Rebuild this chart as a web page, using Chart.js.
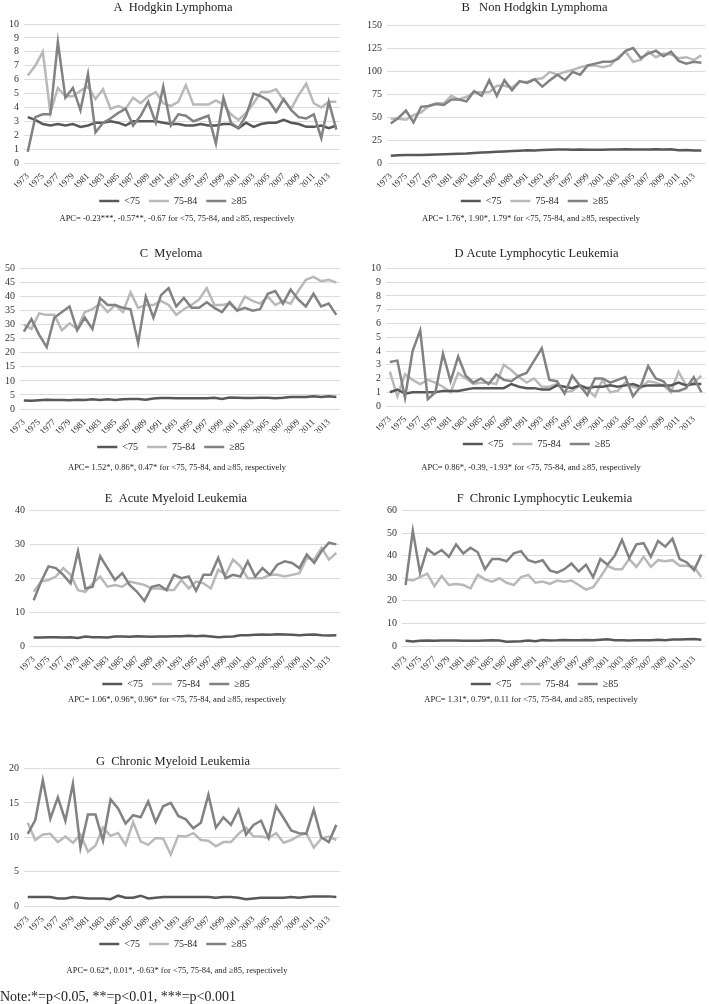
<!DOCTYPE html>
<html>
<head>
<meta charset="utf-8">
<script src="https://cdn.jsdelivr.net/npm/chart.js@4.4.0/dist/chart.umd.min.js"></script>
<style>
  body { margin: 0; background: #fff; font-family: "Liberation Serif", serif; }
  #page { position: relative; width: 709px; height: 1004px; }
  .box { position: absolute; }
  .apc { position: absolute; width: 354px; text-align: center; font-size: 8.5px; line-height: 10px; color: #222;
         -webkit-font-smoothing: antialiased; will-change: transform; }
  .note { position: absolute; left: 0; top: 989px; font-size: 14px; line-height: 16px; color: #222;
          will-change: transform; }
</style>
</head>
<body>
<div id="page">
  <div class="box" style="left:4px;top:0px;width:340px;height:216px"><canvas id="cA"></canvas></div>
  <div class="box" style="left:362px;top:0px;width:347px;height:216px"><canvas id="cB"></canvas></div>
  <div class="box" style="left:0px;top:246px;width:344px;height:216px"><canvas id="cC"></canvas></div>
  <div class="box" style="left:366px;top:246px;width:343px;height:213px"><canvas id="cD"></canvas></div>
  <div class="box" style="left:10px;top:491px;width:334px;height:208px"><canvas id="cE"></canvas></div>
  <div class="box" style="left:382px;top:491px;width:327px;height:208px"><canvas id="cF"></canvas></div>
  <div class="box" style="left:4px;top:754px;width:340px;height:205px"><canvas id="cG"></canvas></div>

  <div class="apc" style="left:0;top:213px">APC= -0.23***, -0.57**, -0.67 for &lt;75, 75-84, and ≥85, respectively</div>
  <div class="apc" style="left:354px;top:213px">APC= 1.76*, 1.90*, 1.79* for &lt;75, 75-84, and ≥85, respectively</div>
  <div class="apc" style="left:0;top:462px">APC= 1.52*, 0.86*, 0.47* for &lt;75, 75-84, and ≥85, respectively</div>
  <div class="apc" style="left:354px;top:462px">APC= 0.86*, -0.39, -1.93* for &lt;75, 75-84, and ≥85, respectively</div>
  <div class="apc" style="left:0;top:694px">APC= 1.06*, 0.96*, 0.96* for &lt;75, 75-84, and ≥85, respectively</div>
  <div class="apc" style="left:354px;top:694px">APC= 1.31*, 0.79*, 0.11 for &lt;75, 75-84, and ≥85, respectively</div>
  <div class="apc" style="left:0;top:965px">APC= 0.62*, 0.01*, -0.63* for &lt;75, 75-84, and ≥85, respectively</div>
  <div class="note">Note:*=p&lt;0.05, **=p&lt;0.01, ***=p&lt;0.001</div>
</div>
<script>
var years = [];
for (var y = 1973; y <= 2014; y++) years.push(String(y));
var groups = ["<75", "75-84", "≥85"];

// A Hodgkin Lymphoma
var hodgkinYoung = [3.3,3.1,2.8,2.7,2.8,2.7,2.8,2.6,2.7,2.9,2.9,3.0,2.9,2.7,3.0,3.0,3.0,3.0,2.9,2.8,2.8,2.7,2.7,2.8,2.7,2.7,2.8,2.8,2.5,2.9,2.6,2.8,2.9,2.9,3.1,2.9,2.8,2.6,2.6,2.7,2.5,2.7];
var hodgkinMid = [6.3,7.0,8.0,3.6,5.4,4.8,4.8,5.2,5.5,4.6,5.3,3.9,4.1,3.9,4.7,4.3,4.8,5.1,4.3,4.1,4.4,5.6,4.2,4.2,4.2,4.5,4.2,3.5,3.1,3.6,4.3,5.1,5.1,5.3,4.5,3.9,4.9,5.7,4.3,4.0,4.4,4.4];
var hodgkinOld = [0.8,3.3,3.5,3.5,8.7,4.7,5.4,3.8,6.4,2.2,2.9,3.2,3.6,3.9,2.7,3.4,4.4,2.9,5.5,2.7,3.5,3.4,3.0,3.2,3.4,1.4,4.7,2.9,2.5,3.4,5.0,4.8,4.5,3.7,4.6,3.8,3.3,3.2,3.5,1.8,4.4,2.4];

// B Non Hodgkin Lymphoma
var nhlYoung = [8.0,8.3,8.6,8.8,8.7,9.0,9.3,9.5,9.7,10.0,10.3,11.0,11.4,11.8,12.3,12.6,13.0,13.4,13.8,13.6,14.0,14.5,14.8,14.6,14.4,14.6,14.5,14.3,14.5,14.6,14.7,14.9,14.8,14.7,14.8,14.9,14.8,14.9,13.8,14.0,13.7,13.6];
var nhlMid = [48,48,47,52,55,62,65,65,73,69,72,77,77,77,84,84,82,88,88,91,92,99,96,99,101,104,106,106,104,106,115,121,110,112,121,115,119,118,114,115,112,117];
var nhlOld = [43,49,57,44,61,62,64,63,69,69,67,78,73,90,73,90,79,89,87,91,83,90,96,90,99,96,106,108,110,110,113,122,125,114,119,122,116,121,111,108,110,109];

// C Myeloma
var myelomaYoung = [3.0,2.9,3.1,3.3,3.2,3.2,3.1,3.3,3.2,3.5,3.2,3.5,3.2,3.5,3.6,3.6,3.3,3.7,3.9,3.9,3.8,3.8,3.8,3.8,3.8,4.0,3.6,4.1,4.0,3.9,3.9,4.0,4.0,3.8,4.0,4.3,4.3,4.3,4.5,4.3,4.5,4.3];
var myelomaMid = [30,28.5,34,33.5,33.5,28,30.5,28.5,34.5,35.5,37.5,34.5,37,34.5,41.5,36,37,37,38.5,37,33.5,35.5,37,39,43,37,37,37.5,35,40,38.5,37.5,40,37,38.5,37.5,42,46,47,45.5,46,45];
var myelomaOld = [27.5,32,26.5,22,32.5,34.5,36.5,28,32.5,28.5,39.5,37,37,36,35.5,23.5,40,32.5,40.5,43,36.5,39.5,36,36,38,36,34.5,38,35,36,35,35.5,41,42,37.5,42.5,39,36.5,41,36.5,37.5,33.5];

// D Acute Lymphocytic Leukemia
var allYoung = [1.0,1.2,0.9,1.0,1.0,1.0,1.0,1.1,1.1,1.1,1.2,1.3,1.3,1.3,1.3,1.3,1.6,1.4,1.3,1.3,1.2,1.2,1.5,1.4,1.3,1.5,1.3,1.4,1.4,1.5,1.4,1.5,1.6,1.4,1.5,1.5,1.5,1.5,1.7,1.5,1.6,1.6];
var allMid = [2.5,0.7,2.3,1.9,1.6,1.9,1.7,1.4,1.0,2.4,2.0,1.6,1.7,1.7,1.6,3.0,2.6,2.1,1.7,2.0,1.4,1.4,1.6,1.0,1.1,1.5,1.2,0.7,1.9,1.0,1.1,1.7,1.4,1.3,1.8,1.7,1.5,1.0,2.5,1.5,1.7,2.2];
var allOld = [3.2,3.3,0.6,4.0,5.5,0.5,1.0,3.8,1.8,3.6,2.2,1.7,2.0,1.6,2.3,1.9,1.8,2.2,2.4,3.3,4.2,1.9,1.8,0.9,2.2,1.5,0.8,2.0,2.0,1.7,1.9,2.1,0.7,1.4,2.9,2.0,1.8,1.1,1.1,1.3,2.1,1.0];

// E Acute Myeloid Leukemia
var amlYoung = [2.5,2.5,2.6,2.6,2.5,2.6,2.4,2.8,2.6,2.6,2.5,2.8,2.8,2.7,2.9,2.8,2.7,2.8,2.8,2.9,2.9,3.0,2.9,3.0,2.8,2.6,2.7,2.8,3.2,3.2,3.3,3.4,3.3,3.5,3.4,3.3,3.2,3.3,3.4,3.2,3.1,3.2];
var amlMid = [16,19,19.5,20.5,23,21,16.5,16,18.5,20.5,17.5,18,17.5,19,18.5,18,17,17,16.5,16.5,19.5,17,19,18.5,17,22.5,21,25.5,23.5,20,20,20,21,21,20.5,21,21.5,26,25.5,29,25.5,27.5];
var amlOld = [13.5,19,23.5,23,21,18.5,28,17,17.5,26.5,23,19.5,21.5,18,16,13.3,17.5,18,16.5,21,20,20.5,16.3,21,21,26,20,21,20.5,25,20.5,23,21,24,25,24.5,23,27,24.5,28,30.5,30];

// F Chronic Lymphocytic Leukemia
var cllYoung = [2.3,2.0,2.3,2.4,2.3,2.4,2.4,2.4,2.3,2.3,2.3,2.4,2.5,2.4,1.9,2.0,2.1,2.4,2.1,2.6,2.4,2.5,2.7,2.5,2.6,2.7,2.6,2.8,3.0,2.6,2.6,2.4,2.6,2.5,2.5,2.8,2.6,2.9,2.9,3.0,3.1,2.8];
var cllMid = [29.5,29,30.5,32,26.5,31,27,27.5,27,25.5,31.5,29.5,28.5,30,28,27,30.5,31.5,28,28.5,27.5,29,28.5,29,27,25,26,30.5,35.5,34,34,38.5,35,39.5,35,38,37.5,38,35.5,35.5,35,30.5];
var cllOld = [27,51,32.5,43,40.5,42.5,39.5,45,41,43.5,41.5,34,38.5,38.5,37.5,41,42,38,37,38,33.5,32.5,34,36.5,33,36,30.5,38.5,36,40,47,39,45,45.5,39.5,46.5,44,47.5,38.5,37,33.5,40.5];

// G Chronic Myeloid Leukemia
var cmlYoung = [1.3,1.3,1.3,1.3,1.1,1.1,1.3,1.2,1.1,1.1,1.1,1.0,1.5,1.2,1.2,1.5,1.1,1.2,1.3,1.3,1.3,1.3,1.3,1.3,1.3,1.2,1.3,1.3,1.2,1.0,1.1,1.2,1.2,1.2,1.2,1.3,1.2,1.3,1.4,1.4,1.4,1.3];
var cmlMid = [12.1,9.6,10.4,10.5,9.3,10.1,9.2,10.4,7.9,8.8,11.4,10.2,10.6,8.9,12.2,9.4,8.9,9.9,9.8,7.5,10.2,10.1,10.6,9.6,9.5,8.7,9.3,9.3,10.5,11.4,10.1,10.1,9.9,10.6,9.2,9.6,10.2,10.6,8.5,9.8,10.1,9.6];
var cmlOld = [10.5,12.5,18.3,12.7,15.8,12.4,17.8,8.5,13.3,13.3,9.5,15.5,14.2,12.0,13.2,12.9,15.2,12.2,14.5,15.0,13.1,12.6,11.3,12.1,16.2,11.4,12.9,11.8,14.0,10.4,11.8,12.4,9.9,14.5,12.8,11.0,10.6,10.5,14.0,10.0,9.3,11.8];

var colors = ["#585858", "#b9b9b9", "#828282"];
var serif = "'Liberation Serif', 'Times New Roman', serif";

function makeChart(id, title, series, maxY, step, titleGap) {
  var datasets = series.map(function (vals, i) {
    return {
      label: groups[i],
      data: vals,
      borderColor: colors[i],
      backgroundColor: colors[i],
      borderWidth: 2.5,
      pointRadius: 0,
      tension: 0,
      order: i === 2 ? 0 : i + 1
    };
  });
  return new Chart(document.getElementById(id), {
    type: 'line',
    data: { labels: years, datasets: datasets },
    options: {
      responsive: true,
      maintainAspectRatio: false,
      animation: false,
      layout: { padding: { top: 0, right: 2, bottom: 0, left: 0 } },
      plugins: {
        title: {
          display: true,
          text: title,
          color: '#222',
          font: { family: serif, size: 12.5, weight: 'normal' },
          padding: { top: 0, bottom: titleGap }
        },
        legend: {
          position: 'bottom',
          labels: {
            color: '#222',
            font: { family: serif, size: 10 },
            usePointStyle: true,
            pointStyle: 'line',
            pointStyleWidth: 20,
            boxHeight: 10,
            padding: 9,
            sort: function (a, b) { return a.datasetIndex - b.datasetIndex; }
          }
        },
        tooltip: { enabled: false }
      },
      scales: {
        x: {
          offset: true,
          grid: { display: false },
          border: { display: false },
          afterFit: function (scale) { scale.height = 24; },
          ticks: {
            autoSkip: false,
            maxRotation: 45,
            minRotation: 45,
            padding: 0,
            color: '#333',
            font: { family: serif, size: 9 },
            callback: function (v, i) { return i % 2 === 0 ? this.getLabelForValue(v) : ''; }
          }
        },
        y: {
          min: 0,
          max: maxY,
          grid: { color: '#dcdcdc', drawTicks: false },
          border: { display: false },
          ticks: {
            autoSkip: false,
            stepSize: step,
            padding: 5,
            color: '#333',
            font: { family: serif, size: 10 }
          }
        }
      }
    }
  });
}

makeChart('cA', 'A  Hodgkin Lymphoma', [hodgkinYoung, hodgkinMid, hodgkinOld], 10, 1, 9);
makeChart('cB', 'B   Non Hodgkin Lymphoma', [nhlYoung, nhlMid, nhlOld], 150, 25, 10);
makeChart('cC', 'C  Myeloma', [myelomaYoung, myelomaMid, myelomaOld], 50, 5, 7.5);
makeChart('cD', 'D Acute Lymphocytic Leukemia', [allYoung, allMid, allOld], 10, 1, 7.5);
makeChart('cE', 'E  Acute Myeloid Leukemia', [amlYoung, amlMid, amlOld], 40, 10, 4.5);
makeChart('cF', 'F  Chronic Lymphocytic Leukemia', [cllYoung, cllMid, cllOld], 60, 10, 4.5);
makeChart('cG', 'G  Chronic Myeloid Leukemia', [cmlYoung, cmlMid, cmlOld], 20, 5, -0.5);
</script>
</body>
</html>
